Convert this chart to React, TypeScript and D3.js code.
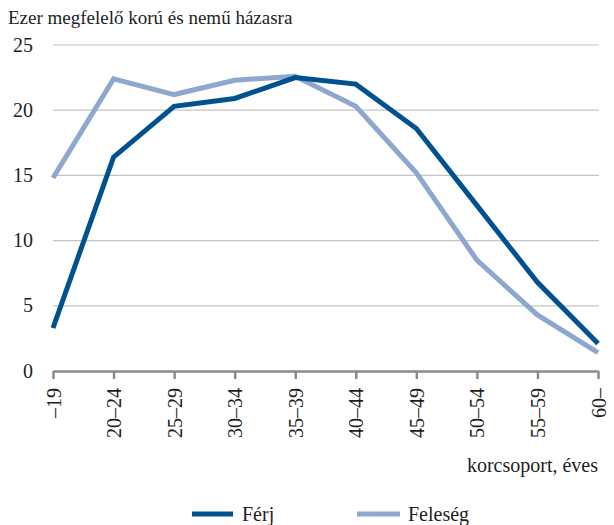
import { useEffect, useRef } from 'react';
import * as d3 from 'd3';

const categories = ['–19', '20–24', '25–29', '30–34', '35–39', '40–44', '45–49', '50–54', '55–59', '60–'];
const ferj = [3.3, 16.4, 20.3, 20.9, 22.5, 22.0, 18.6, 12.7, 6.8, 2.1];
const feleseg = [14.8, 22.4, 21.2, 22.3, 22.6, 20.3, 15.2, 8.5, 4.3, 1.4];
const yTicks = [0, 5, 10, 15, 20, 25];

const width = 614;
const height = 525;
const marginLeft = 53;
const marginRight = 16;
const marginTop = 45;
const axisY = 371;
const serif = "'Liberation Serif', 'Times New Roman', serif";
const dark = '#00528f';
const light = '#8ea7cf';
const ink = '#1e1e1e';

export default function App() {
  const gx = useRef<SVGGElement>(null);

  const x = d3.scalePoint(categories, [marginLeft, width - marginRight]);
  const y = d3.scaleLinear([0, 25], [axisY, marginTop]);

  const line = d3
    .line<number>()
    .x((_, i) => x(categories[i]) as number)
    .y((d) => y(d));

  useEffect(() => {
    if (!gx.current) return;
    const g = d3.select(gx.current);
    g.call(d3.axisBottom(x).tickSize(8).tickSizeOuter(0).tickPadding(10));
    g.attr('font-family', serif);
    g.select('.domain').attr('stroke', '#8a8a8a').attr('stroke-width', 2.5);
    g.selectAll('.tick line').attr('stroke', '#8a8a8a').attr('stroke-width', 2.5);
    g.selectAll('.tick text')
      .style('font-family', serif)
      .style('font-size', '20px')
      .attr('fill', ink)
      .attr('text-anchor', 'end')
      .attr('transform', 'rotate(-90)')
      .attr('x', -17)
      .attr('y', 0)
      .attr('dy', '0.35em');
  }, [x]);

  return (
    <svg width={width} height={height} style={{ position: 'absolute', left: 0, top: 0 }}>
      <style>{`svg text { font-family: ${serif} !important; }`}</style>
      <text x={8} y={24} fontSize={19} fill={ink} style={{ fontFamily: serif }}>
        Ezer megfelelő korú és nemű házasra
      </text>
      {yTicks.map((t) =>
        t > 0 ? (
          <line
            key={'g' + t}
            x1={marginLeft}
            x2={width - marginRight + 1}
            y1={y(t)}
            y2={y(t)}
            stroke='#c4c4c4'
            strokeWidth={1.2}
          />
        ) : null,
      )}
      {yTicks.map((t) => (
        <text key={'l' + t} x={33} y={y(t)} dy='0.33em' textAnchor='end' fontSize={20} fill={ink} style={{ fontFamily: serif }}>
          {t}
        </text>
      ))}
      <path d={line(feleseg) ?? ''} fill='none' stroke={light} strokeWidth={5} />
      <path d={line(ferj) ?? ''} fill='none' stroke={dark} strokeWidth={5} />
      <g ref={gx} transform={`translate(0, ${axisY})`} />
      <text x={598} y={472} textAnchor='end' fontSize={20} fill={ink} style={{ fontFamily: serif }}>
        korcsoport, éves
      </text>
      <line x1={192} x2={233} y1={514} y2={514} stroke={dark} strokeWidth={5} />
      <text x={242} y={521} fontSize={20} fill={ink} style={{ fontFamily: serif }}>
        Férj
      </text>
      <line x1={357} x2={400} y1={514} y2={514} stroke={light} strokeWidth={5} />
      <text x={408} y={521} fontSize={20} fill={ink} style={{ fontFamily: serif }}>
        Feleség
      </text>
    </svg>
  );
}
